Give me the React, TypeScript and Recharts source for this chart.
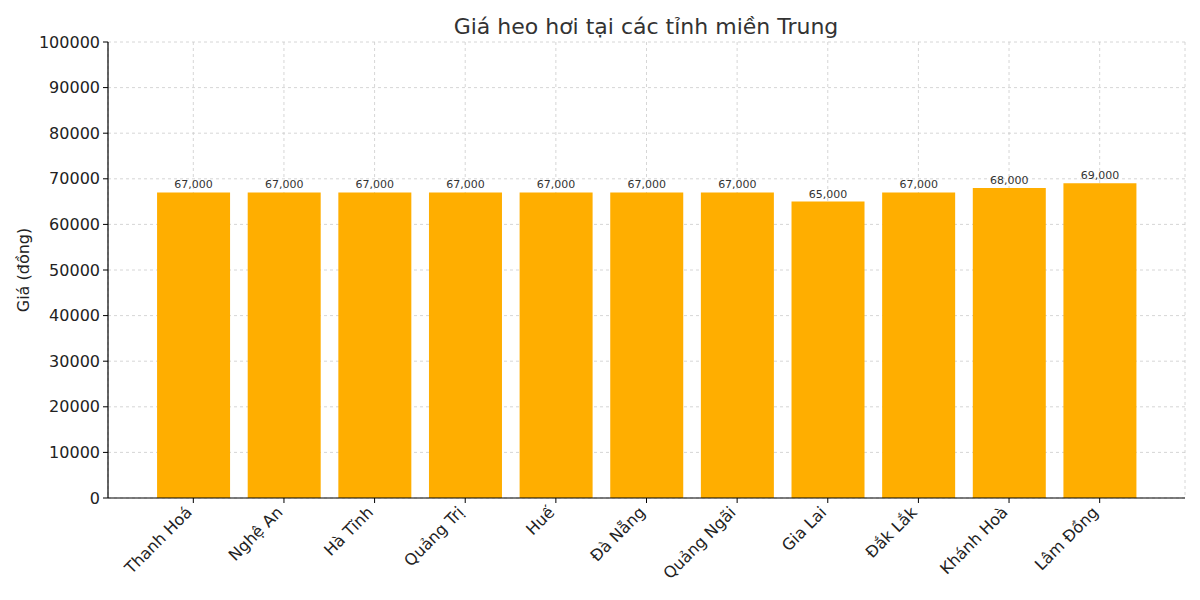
import { BarChart, Bar, XAxis, YAxis, CartesianGrid, LabelList } from 'recharts'

const provinces = [
  'Thanh Hoá',
  'Nghệ An',
  'Hà Tĩnh',
  'Quảng Trị',
  'Huế',
  'Đà Nẵng',
  'Quảng Ngãi',
  'Gia Lai',
  'Đắk Lắk',
  'Khánh Hoà',
  'Lâm Đồng',
]

const prices = [67000, 67000, 67000, 67000, 67000, 67000, 67000, 65000, 67000, 68000, 69000]

const yTicks = [0, 10000, 20000, 30000, 40000, 50000, 60000, 70000, 80000, 90000, 100000]

const data = provinces.map((name, i) => ({ name, price: prices[i] }))

const FONT = '"DejaVu Sans", sans-serif'

function RotatedTick(props: any) {
  const { x, y, payload } = props
  return (
    <g transform={`translate(${x - 5},${y + 1})`}>
      <text
        transform="rotate(-45)"
        textAnchor="end"
        dominantBaseline="middle"
        fontSize={16}
        fontFamily={FONT}
        fill="#222"
        dx={-2}
        dy={4}
      >
        {payload.value}
      </text>
    </g>
  )
}

export default function App() {
  return (
    <div style={{ position: 'absolute', left: 0, top: 0, width: 1200, height: 600, background: '#fff' }}>
      <svg width={1200} height={600} style={{ position: 'absolute', left: 0, top: 0, pointerEvents: 'none' }}>
        <text x={646} y={34} textAnchor="middle" fontSize={22} fontFamily={FONT} fill="#333">
          Giá heo hơi tại các tỉnh miền Trung
        </text>
      </svg>
      <BarChart
        width={1200}
        height={600}
        data={data}
        margin={{ top: 42, right: 15, left: 0, bottom: 0 }}
        barCategoryGap="10%"
      >
        <CartesianGrid stroke="#cccccc" strokeDasharray="3 3" strokeWidth={0.8} />
        <XAxis
          dataKey="name"
          height={102}
          padding={{ left: 40, right: 40 }}
          interval={0}
          tick={<RotatedTick />}
          tickSize={5}
          axisLine={{ stroke: '#000', strokeWidth: 1.2 }}
          tickLine={{ stroke: '#000' }}
        />
        <YAxis
          domain={[0, 100000]}
          ticks={yTicks}
          width={108}
          interval={0}
          tickSize={5}
          tickMargin={3}
          tick={{ fontSize: 16, fontFamily: FONT, fill: '#222' }}
          axisLine={{ stroke: '#000', strokeWidth: 1.2 }}
          tickLine={{ stroke: '#000' }}
          label={{
            value: 'Giá (đồng)',
            angle: -90,
            position: 'insideLeft',
            offset: 23,
            style: { fontSize: 16, fontFamily: FONT, fill: '#222', textAnchor: 'middle' },
          }}
        />
        <Bar dataKey="price" fill="#FFAE00" isAnimationActive={false}>
          <LabelList
            dataKey="price"
            position="top"
            offset={4}
            formatter={(v: any) => Number(v).toLocaleString('en-US')}
            style={{ fontSize: 11, fontFamily: FONT, fill: '#333' }}
          />
        </Bar>
      </BarChart>
    </div>
  )
}
